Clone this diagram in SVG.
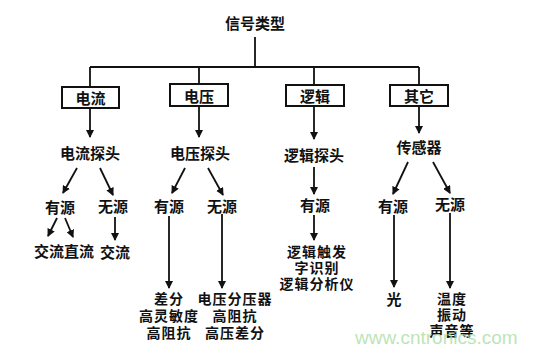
<svg xmlns="http://www.w3.org/2000/svg" width="538" height="353" viewBox="0 0 538 353">
<style>
text{font-family:"Noto Sans CJK SC","Noto Sans CJK JP",sans-serif;font-size:15px;font-weight:700;fill:#111;text-anchor:middle;dominant-baseline:central}
.sm{font-size:14px;letter-spacing:1px}
.box{fill:#fff;stroke:#111;stroke-width:2}
.ln{stroke:#111;stroke-width:1.8;fill:none}
.ar{stroke:#111;stroke-width:1.8;fill:none;marker-end:url(#ah)}
.wm{font-family:"Liberation Sans",Arial,sans-serif;font-weight:400;font-size:19px;fill:#a8dca0;opacity:0.75;text-anchor:start;dominant-baseline:auto}
</style>
<defs>
<marker id="ah" markerUnits="userSpaceOnUse" markerWidth="8" markerHeight="8" refX="7" refY="4" orient="auto">
<path d="M0,0 L8,4 L0,8 Z" fill="#111"/>
</marker>
</defs>
<rect width="538" height="353" fill="#fff"/>
<g id="connectors">
<path class="ln" d="M255,37 V67 M90,67 H419 M90,67 V87 M199,67 V84 M314,67 V85 M419,67 V85"/>
<path class="ar" d="M90,108 V137"/>
<path class="ar" d="M199,106 V137"/>
<path class="ar" d="M314,106 V139"/>
<path class="ar" d="M419,106 V133"/>
<path class="ar" d="M77,168 L63,193"/>
<path class="ar" d="M100,168 L113,195"/>
<path class="ar" d="M57,218 L48,236"/>
<path class="ar" d="M65,218 L73,237"/>
<path class="ar" d="M115,217 V240"/>
<path class="ar" d="M185,168 L172,193"/>
<path class="ar" d="M208,168 L223,195"/>
<path class="ar" d="M169,216 V288"/>
<path class="ar" d="M222,214 V288"/>
<path class="ar" d="M314,167 V194"/>
<path class="ar" d="M314,215 V240"/>
<path class="ar" d="M408,162 L393,194"/>
<path class="ar" d="M433,162 L450,193"/>
<path class="ar" d="M394,215 V287"/>
<path class="ar" d="M450,213 V288"/>
</g>
<g id="n-root"><text x="255" y="22">信号类型</text></g>
<g id="n-current"><rect class="box" x="62" y="87" width="57" height="21"/><text x="90.5" y="97.5">电流</text></g>
<g id="n-voltage"><rect class="box" x="170" y="84" width="58" height="22"/><text x="199" y="95">电压</text></g>
<g id="n-logic"><rect class="box" x="286" y="85" width="58" height="21"/><text x="315" y="95.5">逻辑</text></g>
<g id="n-other"><rect class="box" x="390" y="85" width="58" height="21"/><text x="419" y="95.5">其它</text></g>
<g id="n-cprobe"><text x="90" y="152">电流探头</text></g>
<g id="n-vprobe"><text x="200" y="152">电压探头</text></g>
<g id="n-lprobe"><text x="314" y="154">逻辑探头</text></g>
<g id="n-sensor"><text x="419" y="146">传感器</text></g>
<g id="n-c-active"><text x="60" y="206">有源</text></g>
<g id="n-c-passive"><text x="113" y="205">无源</text></g>
<g id="n-c-acdc"><text x="64" y="250">交流直流</text></g>
<g id="n-c-ac"><text x="115" y="251">交流</text></g>
<g id="n-v-active"><text x="169" y="205">有源</text></g>
<g id="n-v-passive"><text x="222" y="205">无源</text></g>
<g id="n-v-active-list"><text class="sm" x="169" y="298">差分</text><text class="sm" x="169" y="315">高灵敏度</text><text class="sm" x="169" y="332">高阻抗</text></g>
<g id="n-v-passive-list"><text class="sm" x="235" y="298">电压分压器</text><text class="sm" x="235" y="315">高阻抗</text><text class="sm" x="235" y="332">高压差分</text></g>
<g id="n-l-active"><text x="315" y="204">有源</text></g>
<g id="n-l-list"><text class="sm" x="317" y="251">逻辑触发</text><text class="sm" x="317" y="267">字识别</text><text class="sm" x="317" y="283">逻辑分析仪</text></g>
<g id="n-s-active"><text x="393" y="205">有源</text></g>
<g id="n-s-passive"><text x="450" y="203">无源</text></g>
<g id="n-light"><text x="394" y="298">光</text></g>
<g id="n-s-list"><text class="sm" x="452" y="298">温度</text><text class="sm" x="452" y="314">振动</text><text class="sm" x="452" y="330">声音等</text></g>
<text class="wm" x="355" y="344">www.cntronics.com</text>
</svg>
